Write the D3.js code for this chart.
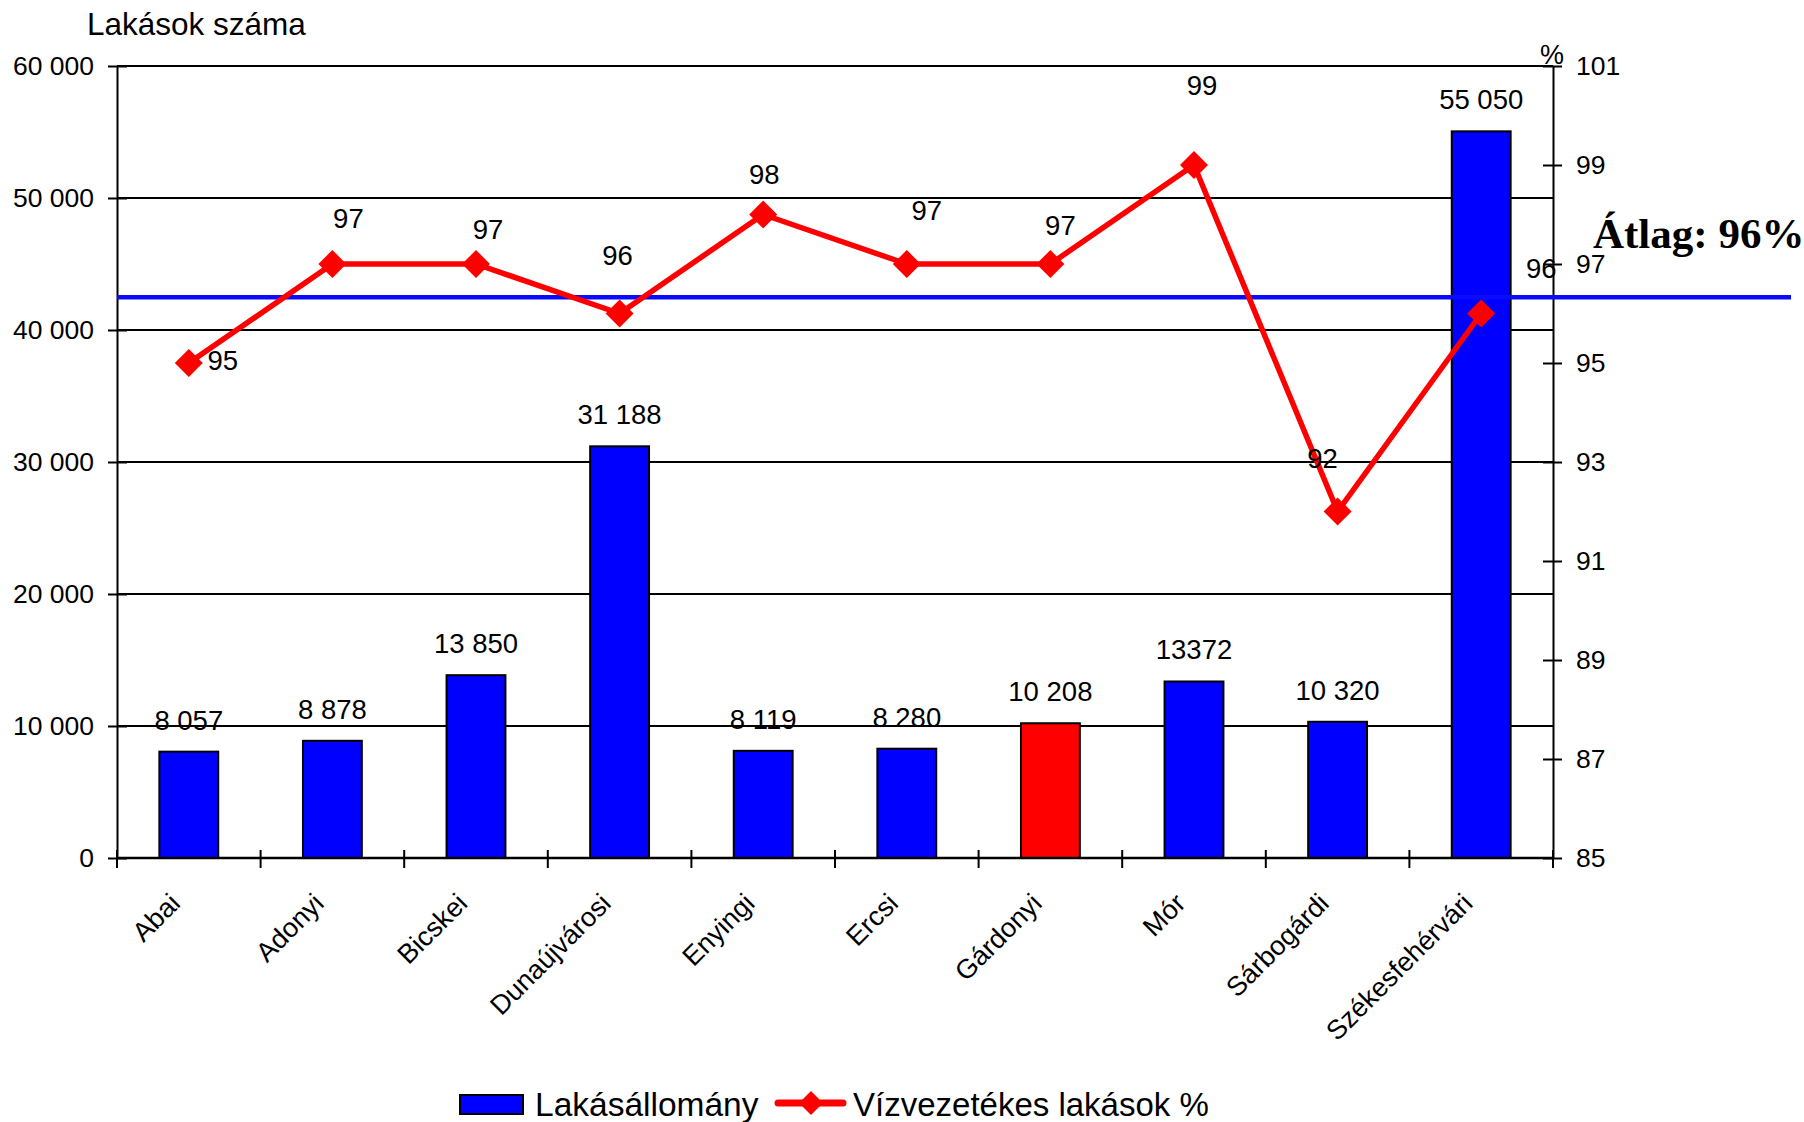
<!DOCTYPE html>
<html>
<head>
<meta charset="utf-8">
<script src="https://cdn.jsdelivr.net/npm/d3@7"></script>
<style>
body { margin: 0; background: #fff; }
text { font-family: "Liberation Sans", Arial, sans-serif; fill: #000; }
</style>
</head>
<body>
<div id="chart"></div>
<script>
// data
var districts = ["Abai", "Adonyi", "Bicskei", "Dunaújvárosi", "Enyingi", "Ercsi", "Gárdonyi", "Mór", "Sárbogárdi", "Székesfehérvári"];
var dwellings = [8057, 8878, 13850, 31188, 8119, 8280, 10208, 13372, 10320, 55050];
var dwellingLabels = ["8 057", "8 878", "13 850", "31 188", "8 119", "8 280", "10 208", "13372", "10 320", "55 050"];
var waterPct = [95, 97, 97, 96, 98, 97, 97, 99, 92, 96];
var avgLine = 96.33;
var avgLabel = "Átlag: 96%";
var leftTicks = [0, 10000, 20000, 30000, 40000, 50000, 60000];
var rightTicks = [85, 87, 89, 91, 93, 95, 97, 99, 101];
var highlight = "Gárdonyi";

// the % labels were nudged by hand in the original (dx, dy from the marker)
var pctLabelShift = [[34, 7], [16, -36], [12, -25], [-2, -49], [1, -31], [20, -44], [10, -29], [8, -70], [-15, -44], [60, -36]];

// plot area (note: "top" is taken by window.top, so use a margin object)
var W = 1804, H = 1122;
var plot = {left: 117, right: 1553, top: 66, bottom: 858};

var svg = d3.select("#chart")
  .append("svg")
    .attr("width", W)
    .attr("height", H);

var fmt = d3.formatLocale({decimal: ",", thousands: " ", grouping: [3], currency: ["", ""]}).format(",d");

// scales
var x = d3.scaleBand()
  .domain(districts)
  .range([plot.left, plot.right])
  .paddingInner(0.59)
  .paddingOuter(0.295);

var yL = d3.scaleLinear().domain([0, 60000]).range([plot.bottom, plot.top]);
var yR = d3.scaleLinear().domain([85, 101]).range([plot.bottom, plot.top]);

function cx(i) { return x(districts[i]) + x.bandwidth() / 2; }

// gridlines
svg.append("g")
  .selectAll("line")
  .data(leftTicks)
  .enter()
  .append("line")
    .attr("x1", plot.left)
    .attr("x2", plot.right)
    .attr("y1", function(d) { return yL(d); })
    .attr("y2", function(d) { return yL(d); })
    .style("stroke", "#000")
    .style("stroke-width", 2);

// bars
svg.append("g")
  .selectAll("rect")
  .data(dwellings)
  .enter()
  .append("rect")
    .attr("x", function(d, i) { return x(districts[i]); })
    .attr("width", x.bandwidth())
    .attr("y", function(d) { return yL(d); })
    .attr("height", function(d) { return plot.bottom - yL(d); })
    .style("fill", function(d, i) { return districts[i] === highlight ? "#ff0000" : "#0000ff"; })
    .style("stroke", "#000")
    .style("stroke-width", 2);

// bar labels
svg.append("g")
  .selectAll("text")
  .data(dwellings)
  .enter()
  .append("text")
    .attr("x", function(d, i) { return cx(i); })
    .attr("y", function(d) { return yL(d) - 22; })
    .attr("text-anchor", "middle")
    .style("font-size", "27.5px")
    .text(function(d, i) { return dwellingLabels[i]; });

// left axis
var axL = svg.append("g")
  .attr("transform", "translate(" + plot.left + ",0)")
  .call(d3.axisLeft(yL).tickValues(leftTicks).tickFormat(fmt).tickSize(9).tickSizeOuter(0).tickPadding(14));
axL.selectAll(".tick line").attr("x1", 10).style("stroke-width", 2);
axL.select(".domain").style("stroke-width", 2);
axL.selectAll(".tick text").style("font-size", "26.5px").style("font-family", "Liberation Sans, Arial, sans-serif");

// right axis
var axR = svg.append("g")
  .attr("transform", "translate(" + plot.right + ",0)")
  .call(d3.axisRight(yR).tickValues(rightTicks).tickSize(9).tickSizeOuter(0).tickPadding(14));
axR.selectAll(".tick line").attr("x1", -10).style("stroke-width", 2);
axR.select(".domain").style("stroke-width", 2);
axR.selectAll(".tick text").style("font-size", "26.5px").style("font-family", "Liberation Sans, Arial, sans-serif");

// bottom axis with ticks between the categories
var bounds = districts.map(function(d) { return x(d) + x.bandwidth() / 2 - x.step() / 2; });
bounds.push(plot.right);
svg.append("line")
  .attr("x1", plot.left).attr("x2", plot.right)
  .attr("y1", plot.bottom).attr("y2", plot.bottom)
  .style("stroke", "#000").style("stroke-width", 2.5);
svg.append("g")
  .selectAll("line")
  .data(bounds)
  .enter()
  .append("line")
    .attr("x1", function(d) { return d; })
    .attr("x2", function(d) { return d; })
    .attr("y1", plot.bottom - 8)
    .attr("y2", plot.bottom + 10)
    .style("stroke", "#000")
    .style("stroke-width", 2);

svg.append("g")
  .selectAll("text")
  .data(districts)
  .enter()
  .append("text")
    .attr("transform", function(d, i) { return "translate(" + (cx(i) - 7) + "," + (plot.bottom + 47) + ") rotate(-45)"; })
    .attr("text-anchor", "end")
    .style("font-size", "27px")
    .text(function(d) { return d; });

// average line
svg.append("line")
  .attr("x1", plot.left).attr("x2", 1791)
  .attr("y1", yR(avgLine)).attr("y2", yR(avgLine))
  .style("stroke", "#0a0aff")
  .style("stroke-width", 4.5);

svg.append("text")
  .attr("x", 1593)
  .attr("y", 248)
  .style("font-family", "Liberation Serif, Times New Roman, serif")
  .style("font-weight", "bold")
  .style("font-size", "43px")
  .text(avgLabel);

// percentage line
var line = d3.line()
  .x(function(d, i) { return cx(i); })
  .y(function(d) { return yR(d); });

svg.append("path")
  .datum(waterPct)
  .attr("d", line)
  .style("fill", "none")
  .style("stroke", "#ff0000")
  .style("stroke-width", 5.5)
  .style("stroke-linejoin", "round");

var diamond = d3.symbol().type(d3.symbolSquare).size(392);
svg.append("g")
  .selectAll("path")
  .data(waterPct)
  .enter()
  .append("path")
    .attr("d", diamond)
    .attr("transform", function(d, i) { return "translate(" + cx(i) + "," + yR(d) + ") rotate(45)"; })
    .style("fill", "#ff0000");

svg.append("g")
  .selectAll("text")
  .data(waterPct)
  .enter()
  .append("text")
    .attr("x", function(d, i) { return cx(i) + pctLabelShift[i][0]; })
    .attr("y", function(d, i) { return yR(d) + pctLabelShift[i][1]; })
    .attr("text-anchor", "middle")
    .style("font-size", "27.5px")
    .text(function(d) { return d; });

// titles
svg.append("text")
  .attr("x", 87)
  .attr("y", 35)
  .style("font-size", "31.5px")
  .text("Lakások száma");

svg.append("text")
  .attr("x", 1552)
  .attr("y", 64)
  .attr("text-anchor", "middle")
  .style("font-size", "27px")
  .text("%");

// legend
var leg = svg.append("g");
leg.append("rect")
  .attr("x", 460).attr("y", 1095)
  .attr("width", 63).attr("height", 19)
  .style("fill", "#0000ff")
  .style("stroke", "#000")
  .style("stroke-width", 2);
leg.append("text")
  .attr("x", 535).attr("y", 1116)
  .style("font-size", "33.5px")
  .text("Lakásállomány");
leg.append("line")
  .attr("x1", 778).attr("x2", 843)
  .attr("y1", 1103).attr("y2", 1103)
  .style("stroke", "#ff0000")
  .style("stroke-width", 7)
  .style("stroke-linecap", "round");
leg.append("path")
  .attr("d", d3.symbol().type(d3.symbolSquare).size(288))
  .attr("transform", "translate(811,1103) rotate(45)")
  .style("fill", "#ff0000");
leg.append("text")
  .attr("x", 853).attr("y", 1116)
  .style("font-size", "33px")
  .text("Vízvezetékes lakások %");
</script>
</body>
</html>
